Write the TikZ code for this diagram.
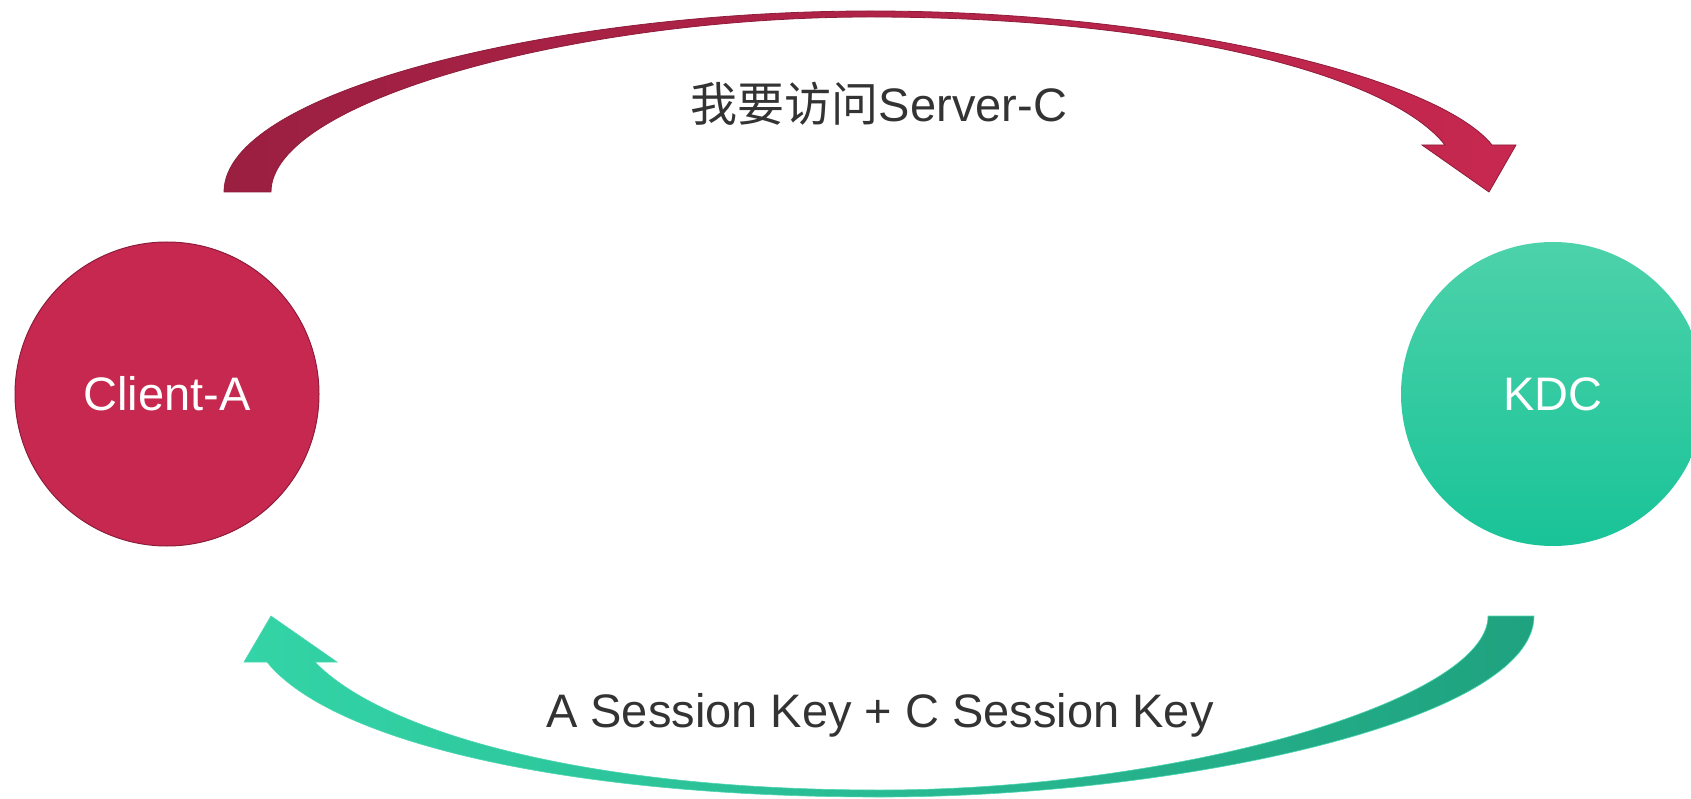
\documentclass[tikz,border=0pt]{standalone}
\usepackage{fontspec}
\setmainfont{Liberation Sans}
\newfontfamily\cjk{Noto Sans CJK SC}
\definecolor{redA}{HTML}{C7284F}
\definecolor{redMid}{HTML}{B22448}
\definecolor{redDark}{HTML}{9B1F41}
\definecolor{redEdge}{HTML}{8E1C3B}
\definecolor{grnTop}{HTML}{4DD2AA}
\definecolor{grnBot}{HTML}{19C398}
\definecolor{grnHead}{HTML}{33D4A7}
\definecolor{grnMid}{HTML}{1FCC9E}
\definecolor{grnTail}{HTML}{1FA27F}
\definecolor{txt}{HTML}{333333}
\begin{document}
\begin{tikzpicture}[x=1pt,y=-1pt,
  lbl/.style={text=txt, font=\fontsize{47}{56}\selectfont, anchor=base, inner sep=0pt},
  ball/.style={circle, minimum size=304pt, inner sep=0pt, text=white, font=\fontsize{47}{56}\selectfont},
  redarrow/.style={left color=redDark, middle color=redMid, right color=redA, draw=redEdge, line width=0.8pt, line join=miter},
  grnarrow/.style={left color=grnHead, middle color=grnMid, right color=grnTail, draw=grnMid!80!white, line width=0.6pt, line join=miter}]
\useasboundingbox (0,0) rectangle (1691,799);
\clip (0,0) rectangle (1691,799);

% nodes
\node[ball, fill=redA, draw=redEdge, line width=1pt] (client) at (167,394) {Client-A};
\node[ball, top color=grnTop, bottom color=grnBot] (kdc) at (1553,394) {KDC};

% top arrow geometry (Client-A -> KDC)
\coordinate (tTailO) at (224,192);
\coordinate (tTailI) at (271,192);
\coordinate (tTopO) at (870,11);
\coordinate (tTopI) at (870,17);
\coordinate (tShaftO) at (1492,145);
\coordinate (tShaftI) at (1445,145);
\coordinate (tHeadR) at (1516,145);
\coordinate (tHeadL) at (1422,145);
\coordinate (tTip) at (1489,192);

\path[redarrow]
  (tTailO) .. controls (224,90) and (560,11) .. (tTopO)
  .. controls (1180,11) and (1440,80) .. (tShaftO)
  -- (tHeadR) -- (tTip) -- (tHeadL) -- (tShaftI)
  .. controls (1390,75) and (1170,17) .. (tTopI)
  .. controls (580,17) and (271,100) .. (tTailI) -- cycle;

% bottom arrow geometry (KDC -> Client-A)
\coordinate (bTailO) at (1534,616);
\coordinate (bTailI) at (1488,616);
\coordinate (bBotO) at (880,797);
\coordinate (bBotI) at (880,790);
\coordinate (bShaftO) at (267,662);
\coordinate (bShaftI) at (315,662);
\coordinate (bHeadL) at (244,662);
\coordinate (bHeadR) at (337,662);
\coordinate (bTip) at (271,616);

\path[grnarrow]
  (bTailO) .. controls (1534,720) and (1180,797) .. (bBotO)
  .. controls (560,797) and (330,740) .. (bShaftO)
  -- (bHeadL) -- (bTip) -- (bHeadR) -- (bShaftI)
  .. controls (380,730) and (580,790) .. (bBotI)
  .. controls (1180,790) and (1488,700) .. (bTailI) -- cycle;

% labels
\node[lbl] (req) at (879,122) {{\cjk 我要访问}Server-C};
\node[lbl] (resp) at (880,727) {A Session Key + C Session Key};
\end{tikzpicture}
\end{document}
